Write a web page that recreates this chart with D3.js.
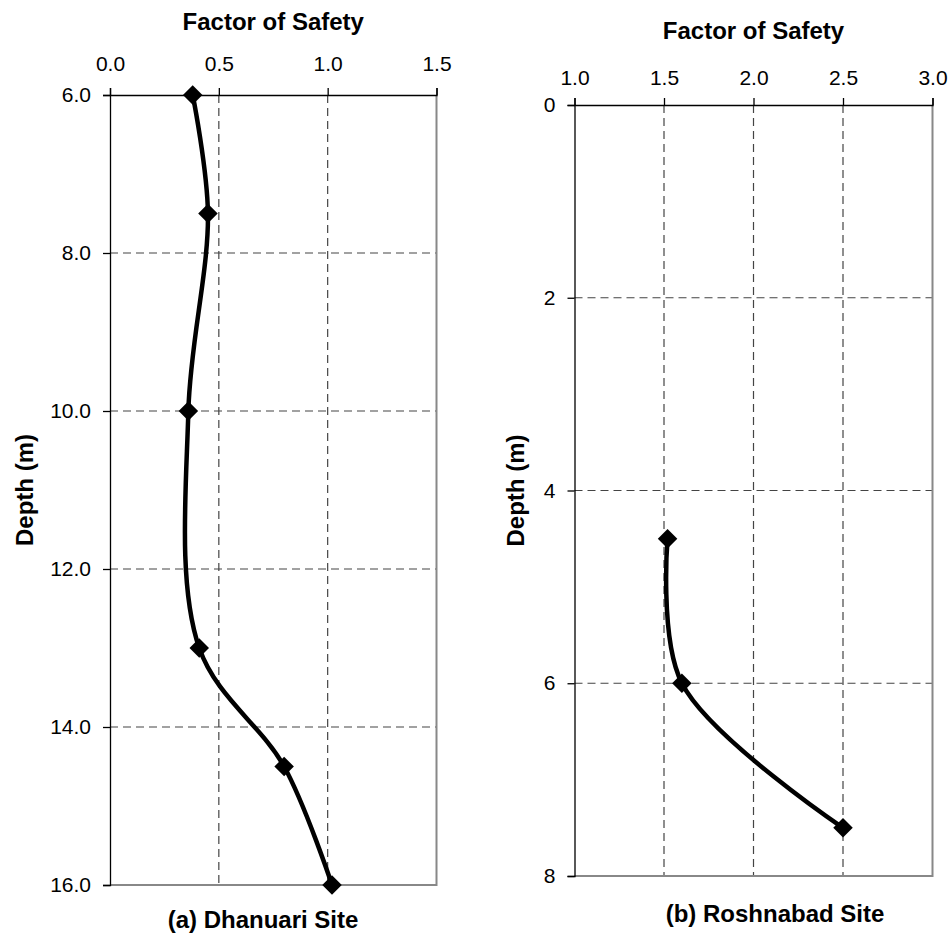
<!DOCTYPE html>
<html>
<head>
<meta charset="utf-8">
<script src="https://cdn.jsdelivr.net/npm/d3@7"></script>
<style>
  body { margin: 0; background: #fff; }
  svg { font-family: "Liberation Sans", Arial, sans-serif; }
</style>
</head>
<body>
<svg id="chart" width="950" height="935"></svg>
<script>
// --- Données
const dhanuariDepth = [6.0, 7.5, 10.0, 13.0, 14.5, 16.0];
const dhanuariFS = [0.38, 0.45, 0.36, 0.41, 0.80, 1.02];
const roshnabadDepth = [4.5, 6.0, 7.5];
const roshnabadFS = [1.52, 1.60, 2.50];

const dhanuariXTicks = [0.0, 0.5, 1.0, 1.5];
const dhanuariYTicks = [6, 8, 10, 12, 14, 16];
const roshnabadXTicks = [1.0, 1.5, 2.0, 2.5, 3.0];
const roshnabadYTicks = [0, 2, 4, 6, 8];

const xTitle = "Factor of Safety";
const yTitle = "Depth (m)";
const captions = ["(a) Dhanuari Site", "(b) Roshnabad Site"];

const svg = d3.select("#chart");

// --- Un panneau (axe X en haut, profondeur vers le bas)
function drawPanel(opt) {
  const g = svg.append("g");
  const x = d3.scaleLinear().domain(opt.xDomain).range([opt.left, opt.right]);
  const y = d3.scaleLinear().domain(opt.yDomain).range([opt.top, opt.bottom]);

  // grille pointillée
  g.selectAll(".vgrid")
    .data(opt.xTicks.slice(1, -1))
    .join("line")
    .attr("x1", d => x(d)).attr("x2", d => x(d))
    .attr("y1", opt.top).attr("y2", opt.bottom)
    .attr("stroke", "#444").attr("stroke-width", 1.2)
    .attr("stroke-dasharray", "8,5");

  g.selectAll(".hgrid")
    .data(opt.yTicks.slice(1, -1))
    .join("line")
    .attr("x1", opt.left).attr("x2", opt.right)
    .attr("y1", d => y(d)).attr("y2", d => y(d))
    .attr("stroke", "#444").attr("stroke-width", 1.2)
    .attr("stroke-dasharray", "8,5");

  // bord droit et bas gris
  g.append("path")
    .attr("d", `M${opt.right},${opt.top}V${opt.bottom}H${opt.left}`)
    .attr("fill", "none")
    .attr("stroke", "#888")
    .attr("stroke-width", 2);

  // axe X en haut
  const xAxis = g.append("g")
    .attr("transform", `translate(0,${opt.top})`)
    .call(d3.axisTop(x).tickValues(opt.xTicks).tickFormat(d3.format(".1f"))
      .tickSizeOuter(0).tickSize(7).tickPadding(opt.xPad));
  xAxis.select(".domain").attr("stroke", "#000").attr("stroke-width", 1.3);
  xAxis.selectAll(".tick line").attr("stroke", "#000").attr("stroke-width", 1.3);
  xAxis.selectAll("text").attr("font-size", 21).attr("fill", "#000");

  // axe Y à gauche
  const yAxis = g.append("g")
    .attr("transform", `translate(${opt.left},0)`)
    .call(d3.axisLeft(y).tickValues(opt.yTicks).tickFormat(d3.format(opt.yFormat))
      .tickSizeOuter(0).tickSize(7).tickPadding(12));
  yAxis.select(".domain").attr("stroke", "#000").attr("stroke-width", 1.3);
  yAxis.selectAll(".tick line").attr("stroke", "#000").attr("stroke-width", 1.3);
  yAxis.selectAll("text").attr("font-size", 21).attr("fill", "#000");

  // courbe lissée
  const pts = opt.depth.map((d, i) => [opt.fs[i], d]);
  const line = d3.line()
    .x(d => x(d[0]))
    .y(d => y(d[1]))
    .curve(d3.curveCatmullRom.alpha(0.5));

  g.append("path")
    .datum(pts)
    .attr("d", line)
    .attr("fill", "none")
    .attr("stroke", "#000")
    .attr("stroke-width", 4.5)
    .attr("stroke-linejoin", "round");

  // marqueurs losange
  g.selectAll(".marker")
    .data(pts)
    .join("path")
    .attr("d", d3.symbol(d3.symbolSquare, 190))
    .attr("transform", d => `translate(${x(d[0])},${y(d[1])}) rotate(45)`)
    .attr("fill", "#000");

  // titres
  g.append("text")
    .attr("x", (opt.left + opt.right) / 2)
    .attr("y", opt.titleY)
    .attr("text-anchor", "middle")
    .attr("font-size", 24).attr("font-weight", "bold")
    .text(xTitle);

  g.append("text")
    .attr("transform", `translate(${opt.yTitleX},${(opt.top + opt.bottom) / 2}) rotate(-90)`)
    .attr("text-anchor", "middle")
    .attr("font-size", 24).attr("font-weight", "bold")
    .text(yTitle);

  g.append("text")
    .attr("x", opt.captionX)
    .attr("y", opt.captionY)
    .attr("text-anchor", "middle")
    .attr("font-size", 24).attr("font-weight", "bold")
    .text(opt.caption);
}

drawPanel({
  depth: dhanuariDepth, fs: dhanuariFS,
  xDomain: [0, 1.5], yDomain: [6, 16],
  xTicks: dhanuariXTicks, yTicks: dhanuariYTicks, yFormat: ".1f",
  left: 110, right: 436.5, top: 95, bottom: 885, xPad: 17,
  titleY: 30, yTitleX: 33, captionX: 263, captionY: 928,
  caption: captions[0]
});

drawPanel({
  depth: roshnabadDepth, fs: roshnabadFS,
  xDomain: [1, 3], yDomain: [0, 8],
  xTicks: roshnabadXTicks, yTicks: roshnabadYTicks, yFormat: "d",
  left: 574.5, right: 932.5, top: 105, bottom: 876, xPad: 13,
  titleY: 39, yTitleX: 524, captionX: 775, captionY: 922,
  caption: captions[1]
});
</script>
</body>
</html>
